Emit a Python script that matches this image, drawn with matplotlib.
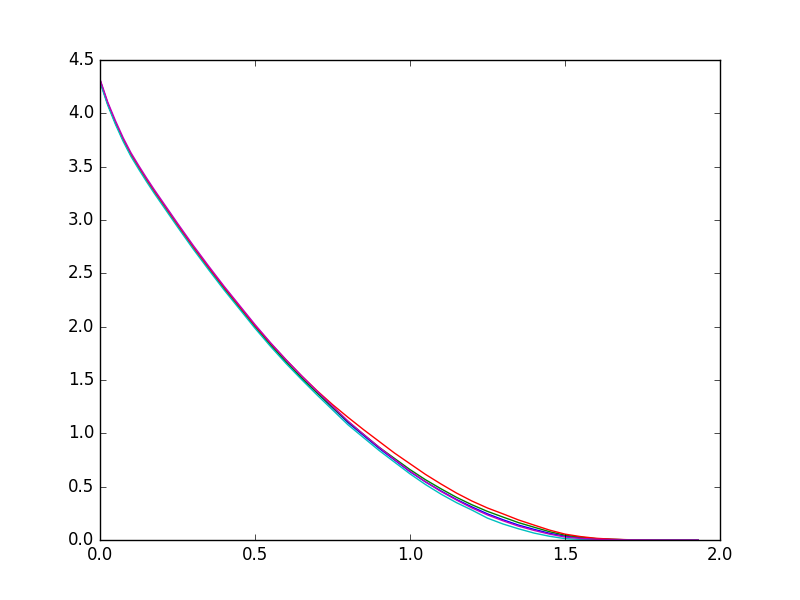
import numpy as np
import matplotlib
matplotlib.use("Agg")
import matplotlib.pyplot as plt

plt.style.use('classic')

x = [0.0, 0.01, 0.025, 0.05, 0.075, 0.1, 0.125, 0.15, 0.175, 0.2,
     0.25, 0.3, 0.35, 0.4, 0.45, 0.5,
     0.55, 0.6, 0.65, 0.7, 0.75, 0.8, 0.85, 0.9, 0.95, 1.0,
     1.05, 1.1, 1.15, 1.2, 1.25, 1.3, 1.35, 1.4, 1.45, 1.5,
     1.55, 1.6, 1.65, 1.7, 1.8, 1.93]

blue = [4.31, 4.22, 4.09, 3.91, 3.75, 3.61, 3.49, 3.375, 3.265, 3.16,
        2.95, 2.745, 2.55, 2.36, 2.18, 2.00,
        1.83, 1.67, 1.52, 1.38, 1.24, 1.10, 0.98, 0.86, 0.75, 0.64,
        0.545, 0.46, 0.38, 0.31, 0.245, 0.19, 0.14, 0.10, 0.063, 0.035,
        0.02, 0.01, 0.005, 0.002, 0.0, 0.0]
green = [4.31, 4.22, 4.09, 3.91, 3.75, 3.61, 3.49, 3.375, 3.265, 3.16,
         2.95, 2.745, 2.55, 2.36, 2.18, 2.00,
         1.83, 1.67, 1.52, 1.38, 1.245, 1.11, 0.99, 0.87, 0.765, 0.66,
         0.565, 0.48, 0.40, 0.33, 0.268, 0.215, 0.163, 0.12, 0.078, 0.045,
         0.026, 0.013, 0.006, 0.002, 0.0, 0.0]
red = [4.31, 4.22, 4.09, 3.91, 3.75, 3.61, 3.49, 3.375, 3.265, 3.16,
       2.95, 2.745, 2.555, 2.37, 2.19, 2.01,
       1.845, 1.69, 1.54, 1.40, 1.27, 1.15, 1.035, 0.925, 0.815, 0.715,
       0.615, 0.525, 0.44, 0.365, 0.30, 0.245, 0.188, 0.14, 0.093, 0.055,
       0.032, 0.016, 0.008, 0.003, 0.0, 0.0]
cyan = [4.30, 4.205, 4.075, 3.895, 3.735, 3.595, 3.475, 3.36, 3.25, 3.145,
        2.935, 2.73, 2.535, 2.345, 2.165, 1.985,
        1.815, 1.655, 1.505, 1.36, 1.22, 1.08, 0.96, 0.84, 0.73, 0.62,
        0.52, 0.43, 0.35, 0.28, 0.205, 0.15, 0.105, 0.065, 0.035, 0.013,
        0.006, 0.002, 0.0, 0.0, 0.0, 0.0]
magenta = [4.32, 4.235, 4.105, 3.93, 3.77, 3.63, 3.51, 3.395, 3.285, 3.18,
           2.97, 2.765, 2.57, 2.38, 2.20, 2.02,
           1.85, 1.69, 1.54, 1.395, 1.255, 1.115, 0.99, 0.87, 0.755, 0.645,
           0.545, 0.455, 0.375, 0.30, 0.235, 0.18, 0.13, 0.09, 0.055, 0.028,
           0.015, 0.007, 0.003, 0.001, 0.0, 0.0]

fig, ax = plt.subplots(figsize=(8, 6), dpi=100)

for ys, c in [(blue, 'b'), (green, 'g'), (red, 'r'), (cyan, 'c'), (magenta, 'm')]:
    ax.plot(x, ys, color=c, linewidth=1.0)

ax.set_xlim(0, 2.0)
ax.set_ylim(0, 4.5)

fig.savefig('out.png', dpi=100, facecolor='white')
